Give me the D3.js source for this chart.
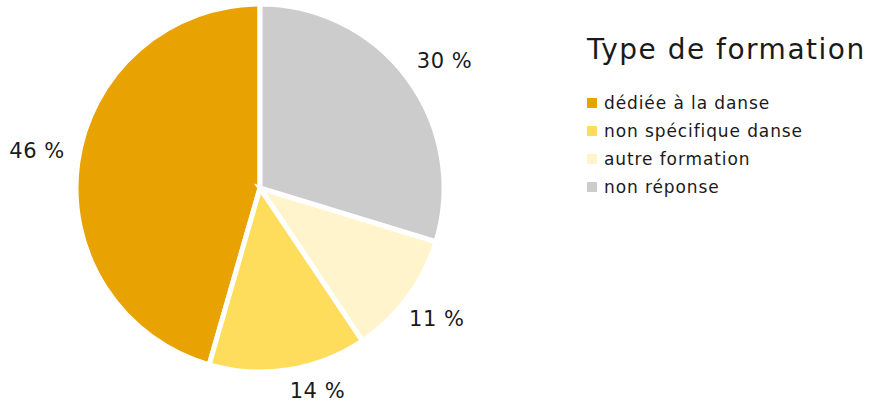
<!DOCTYPE html>
<html lang="fr">
<head>
    <meta charset="UTF-8">
    <script src="https://d3js.org/d3.v7.min.js"></script>
    <title>Type de formation</title>
    <style>
        body {
            margin: 0;
            background: white;
        }
        svg {
            display: block;
            font-family: "DejaVu Sans", sans-serif;
        }
        .slice {
            stroke: white;
            stroke-width: 5px;
        }
    </style>
</head>
<body>
    <script>
        /*------------------- data --------------------*/
        const categories = ["dédiée à la danse", "non spécifique danse", "autre formation", "non réponse"]
        const values = [46, 14, 11, 30]
        const labels = ["46 %", "14 %", "11 %", "30 %"]
        const colors = ["#E8A202", "#FFDD5C", "#FFF4CC", "#CCCCCC"]

        /*------------------- dimensions --------------------*/
        const width = 869, height = 405
        const cx = 260, cy = 188
        const radius = 184
        // label distance from centre and small angle nudge (radians), per slice
        const labelRadius = [226, 211, 220, 224]
        const labelNudge = [0.023, -0.12, 0, 0.035]

        const svg = d3.select("body").append("svg")
            .attr("width", width)
            .attr("height", height)

        const color = d3.scaleOrdinal()
            .domain(categories)
            .range(colors)

        // slices go counter-clockwise from 12 o'clock, in legend order
        const pie = d3.pie()
            .sort(null)
            .value(d => d.value)
            .startAngle(0)
            .endAngle(-2 * Math.PI)

        const data = categories.map((c, i) => ({ name: c, value: values[i], label: labels[i] }))
        const arcs = pie(data)

        const arc = d3.arc().innerRadius(0).outerRadius(radius)

        function labelPos(d, i) {
            const a = (d.startAngle + d.endAngle) / 2 + labelNudge[i]
            const r = labelRadius[i]
            return [r * Math.sin(a), -r * Math.cos(a)]
        }

        const g = svg.append("g").attr("transform", `translate(${cx},${cy})`)

        g.selectAll("path")
            .data(arcs)
            .enter()
            .append("path")
            .attr("class", "slice")
            .attr("d", arc)
            .attr("fill", d => color(d.data.name))

        g.selectAll("text")
            .data(arcs)
            .enter()
            .append("text")
            .attr("transform", (d, i) => `translate(${labelPos(d, i)})`)
            .attr("text-anchor", "middle")
            .attr("dominant-baseline", "central")
            .attr("font-size", 21)
            .attr("letter-spacing", 0.5)
            .attr("fill", "#1a1a1a")
            .text(d => d.data.label)

        /*------------------- legend --------------------*/
        const legend = svg.append("g").attr("transform", "translate(587,0)")

        legend.append("text")
            .attr("x", 0)
            .attr("y", 59)
            .attr("font-size", 28)
            .attr("letter-spacing", 1.5)
            .attr("fill", "#1a1a1a")
            .text("Type de formation")

        const rows = legend.selectAll("g.row")
            .data(categories)
            .enter()
            .append("g")
            .attr("class", "row")
            .attr("transform", (d, i) => `translate(0,${103 + i * 28})`)

        rows.append("rect")
            .attr("x", 0)
            .attr("y", -5)
            .attr("width", 10)
            .attr("height", 10)
            .attr("fill", d => color(d))

        rows.append("text")
            .attr("x", 17)
            .attr("y", 0)
            .attr("dominant-baseline", "central")
            .attr("font-size", 17)
            .attr("letter-spacing", 0.9)
            .attr("fill", "#1a1a1a")
            .text(d => d)
    </script>
</body>
</html>
